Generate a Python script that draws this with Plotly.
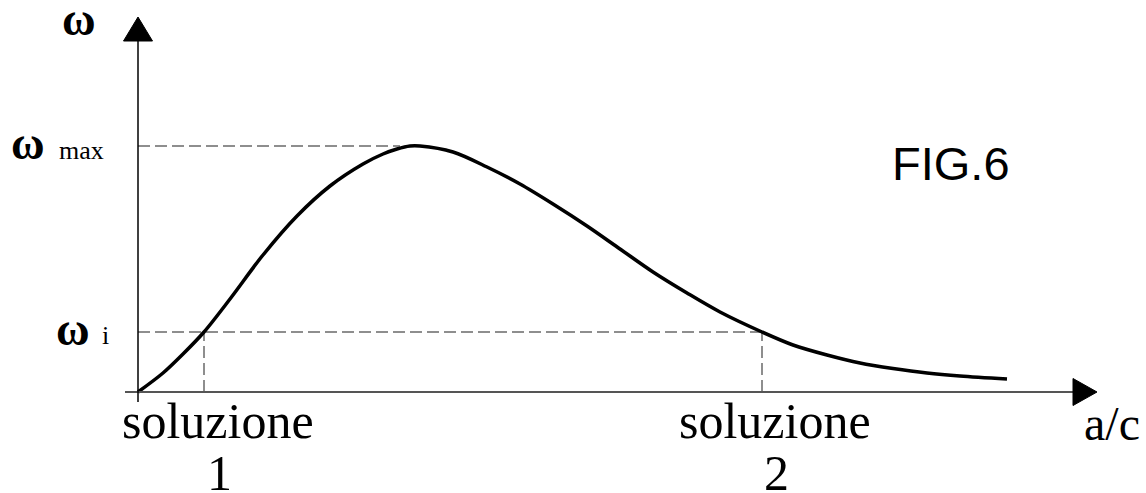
import plotly.graph_objects as go

# Curve data (a/c vs omega), arbitrary units
a_c = [0, 0.25, 0.45, 0.66, 0.92, 1.25, 1.59, 1.92, 2.25, 2.45, 2.59, 2.72, 2.82, 3.15, 3.49, 3.82,
       4.15, 4.49, 4.82, 5.15, 5.49, 5.82, 6.24, 6.55, 6.89, 7.22, 7.55, 7.89, 8.22, 8.69]
omega = [0, 0.19, 0.38, 0.60, 0.93, 1.37, 1.76, 2.06, 2.28, 2.38, 2.43, 2.46, 2.46, 2.40, 2.25, 2.08,
         1.88, 1.66, 1.43, 1.20, 0.99, 0.80, 0.60, 0.47, 0.37, 0.29, 0.235, 0.19, 0.16, 0.13]

omega_max = 2.46
omega_peak_x = 2.62
omega_i = 0.60
sol1 = 0.66
sol2 = 6.24

sol_labels = ["soluzione", "soluzione"]
sol_numbers = ["1", "2"]
sol_label_x = [0.80, 6.37]

fig = go.Figure()
fig.add_trace(go.Scatter(x=a_c, y=omega, mode="lines",
                         line=dict(color="black", width=3.5, shape="spline", smoothing=0.9),
                         hoverinfo="skip", showlegend=False))

dash_style = dict(color="#6a6a6a", width=1.5, dash="12px,5px")
shapes = [
    dict(type="line", x0=0, x1=omega_peak_x, y0=omega_max, y1=omega_max, line=dash_style, layer="below"),
    dict(type="line", x0=0, x1=sol2, y0=omega_i, y1=omega_i, line=dash_style, layer="below"),
    dict(type="line", x0=sol1, x1=sol1, y0=0, y1=omega_i, line=dash_style, layer="below"),
    dict(type="line", x0=sol2, x1=sol2, y0=0, y1=omega_i, line=dash_style, layer="below"),
    # axes
    dict(type="line", x0=-0.13, x1=9.36, y0=0, y1=0, line=dict(color="#555555", width=2)),
    dict(type="line", x0=0, x1=0, y0=-0.10, y1=3.52, line=dict(color="black", width=1.5)),
    dict(type="path", path="M 9.35 0.135 L 9.59 0 L 9.35 -0.135 Z",
         fillcolor="black", line=dict(color="black", width=1)),
    dict(type="path", path="M -0.145 3.51 L 0.145 3.51 L 0 3.75 Z",
         fillcolor="black", line=dict(color="black", width=1)),
]

serif = "Liberation Serif"
ann = []
def txt(x, y, t, size, family=serif, xanchor="center"):
    ann.append(dict(x=x, y=y, text=t, showarrow=False, xanchor=xanchor, yanchor="middle",
                    font=dict(family=family, size=size, color="black")))

txt(-0.59, 3.73, "<b>ω</b>", 46)
txt(-1.10, 2.49, "<b>ω</b>", 46)
txt(-0.565, 2.42, "max", 26)
txt(-0.65, 0.63, "<b>ω</b>", 46)
txt(-0.325, 0.57, "i", 26)
for lab, num, lx in zip(sol_labels, sol_numbers, sol_label_x):
    txt(lx, -0.29, lab, 50)
    txt(lx + 0.01, -0.81, num, 50)
txt(9.74, -0.31, "a/c", 48)
txt(8.13, 2.29, "FIG.6", 47, family="Liberation Sans")

fig.update_layout(
    width=1146, height=493,
    margin=dict(l=0, r=0, t=0, b=0),
    paper_bgcolor="white", plot_bgcolor="white",
    xaxis=dict(range=[-1.38, 10.08], visible=False, fixedrange=True),
    yaxis=dict(range=[-1.01, 3.92], visible=False, fixedrange=True),
    shapes=shapes, annotations=ann, showlegend=False,
)

fig.write_html("out.html", config={"displayModeBar": False},
               post_script="document.body.style.margin='0';document.body.style.overflow='hidden';")
